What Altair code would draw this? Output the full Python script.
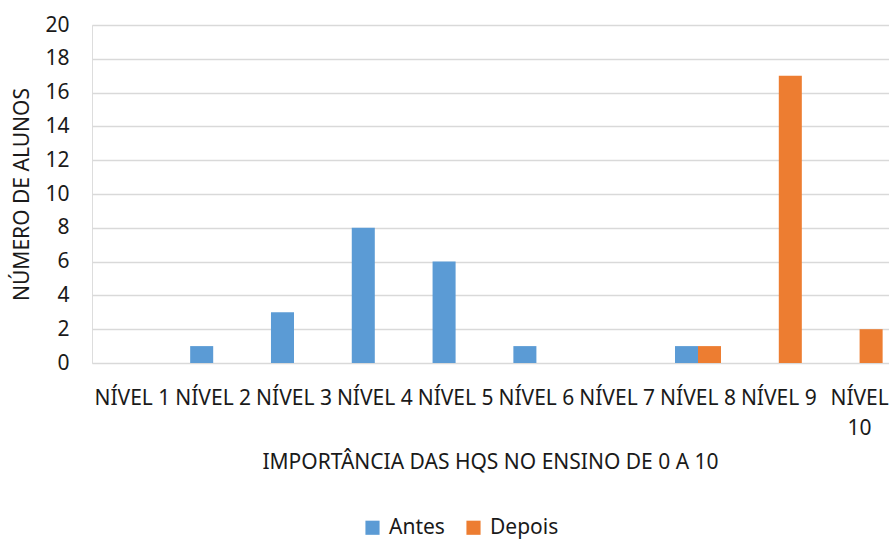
import altair as alt
import pandas as pd

# Categories and counts per series
niveis = ["NÍVEL 1", "NÍVEL 2", "NÍVEL 3", "NÍVEL 4", "NÍVEL 5",
          "NÍVEL 6", "NÍVEL 7", "NÍVEL 8", "NÍVEL 9", "NÍVEL 10"]
antes = [0, 1, 3, 8, 6, 1, 0, 1, 0, 0]
depois = [0, 0, 0, 0, 0, 0, 0, 1, 17, 2]
series = ["Antes", "Depois"]
colors = ["#5b9bd5", "#ed7d31"]

rows = []
for i, nivel in enumerate(niveis):
    rows.append({"nivel": nivel, "serie": "Antes", "alunos": antes[i]})
    rows.append({"nivel": nivel, "serie": "Depois", "alunos": depois[i]})
df = pd.DataFrame(rows)

FONT = "Noto Sans"
TEXT = "#1a1a1a"

chart = alt.Chart(df).mark_bar().encode(
    x=alt.X(
        "nivel:N",
        sort=niveis,
        scale=alt.Scale(range=[0, 808], paddingInner=0.43, paddingOuter=0.215),
        axis=alt.Axis(
            title="IMPORTÂNCIA DAS HQS NO ENSINO DE 0 A 10",
            labelAngle=0,
            labelFont=FONT,
            labelFontSize=21,
            labelColor=TEXT,
            labelBaseline="top",
            labelPadding=24,
            labelLineHeight=30,
            labelExpr="datum.label == 'NÍVEL 10' ? ['NÍVEL', '10'] : datum.label",
            labelLimit=200,
            ticks=False,
            tickSize=0,
            domain=False,
            grid=False,
            titleFont=FONT,
            titleFontSize=21,
            titleFontWeight="normal",
            titleColor=TEXT,
            titleX=398,
            titleY=99,
            titleBaseline="middle",
            titleAlign="center",
        ),
    ),
    xOffset=alt.XOffset("serie:N", sort=series, scale=alt.Scale(paddingInner=0, paddingOuter=0)),
    y=alt.Y(
        "alunos:Q",
        scale=alt.Scale(domain=[0, 20], nice=False),
        axis=alt.Axis(
            title="NÚMERO DE ALUNOS",
            values=list(range(0, 21, 2)),
            labelFont=FONT,
            labelFontSize=21,
            labelColor=TEXT,
            labelPadding=23,
            ticks=False,
            tickSize=0,
            domain=False,
            grid=True,
            gridColor="#d9d9d9",
            gridWidth=1.5,
            titleFont=FONT,
            titleFontSize=21,
            titleFontWeight="normal",
            titleColor=TEXT,
            titleX=-70,
            titleY=169,
            titleBaseline="middle",
            titleAlign="center",
        ),
    ),
    color=alt.Color(
        "serie:N",
        sort=series,
        scale=alt.Scale(domain=series, range=colors),
        legend=alt.Legend(
            title=None,
            orient="none",
            direction="horizontal",
            legendX=270,
            legendY=492,
            symbolType="square",
            symbolSize=200,
            symbolStrokeWidth=0,
            symbolOpacity=1,
            labelFont=FONT,
            labelFontSize=21,
            labelColor=TEXT,
            labelOffset=6,
            columnPadding=18,
        ),
    ),
).properties(
    width=797,
    height=338,
    autosize=alt.AutoSizeParams(type="none"),
    padding={"left": 92, "top": 25, "right": 0, "bottom": 180},
).configure_view(
    stroke=None
).configure(
    background="white"
)

chart.save("out.html", embed_options={"renderer": "svg", "actions": False})
